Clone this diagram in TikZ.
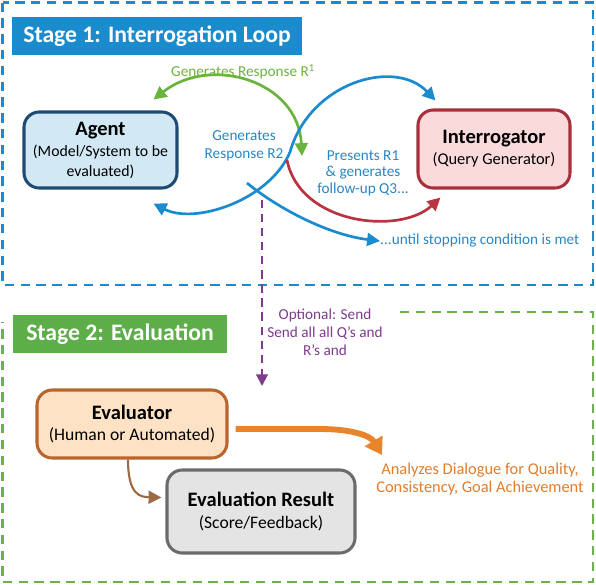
\documentclass[tikz,border=0pt]{standalone}
\usepackage{fontspec}
\setmainfont{Carlito}
\usetikzlibrary{arrows.meta,calc}
\definecolor{loopblue}{HTML}{1A8CCD}
\definecolor{evalgreen}{HTML}{5DAE48}
\definecolor{dashgreen}{HTML}{6CB24C}
\definecolor{agentfill}{HTML}{D2E8F5}
\definecolor{agentline}{HTML}{1F4B72}
\definecolor{intfill}{HTML}{FADADA}
\definecolor{intline}{HTML}{A8303C}
\definecolor{respgreen}{HTML}{6BB33F}
\definecolor{qred}{HTML}{B93340}
\definecolor{optpurple}{HTML}{7D3C8C}
\definecolor{evfill}{HTML}{FDE2C6}
\definecolor{evline}{HTML}{B9652B}
\definecolor{resfill}{HTML}{E4E4E4}
\definecolor{resline}{HTML}{6B6B6B}
\definecolor{anorange}{HTML}{E8842C}
\definecolor{brownarr}{HTML}{9C6A45}
\definecolor{txtblue}{HTML}{2A86C3}
\definecolor{txtorange}{HTML}{E07D2D}
\newcommand{\boxtext}[2]{{\fontsize{17.5}{19}\selectfont\bfseries #1}\\[1pt]#2}
\tikzset{
  stage/.style  = {line width=2.4pt, dash pattern=on 8pt off 5.5pt},
  hdr/.style    = {fill=#1, text=white, inner sep=0pt, minimum height=1.14cm,
                   font=\fontsize{20.2}{22}\selectfont\bfseries},
  actor/.style  = {rounded corners=13pt, line width=2.6pt, align=center,
                   inner sep=2pt, font=\fontsize{13.5}{17}\selectfont},
  lbl/.style    = {align=center, inner sep=0pt, font=\fontsize{13}{15.4}\selectfont},
  flow/.style   = {line width=2.3pt, -{Triangle[length=11pt, width=11pt]}},
  dflow/.style  = {line width=2.3pt, {Triangle[length=11pt, width=11pt]}-{Triangle[length=11pt, width=11pt]}},
}
\begin{document}
\begin{tikzpicture}[x=0.03cm, y=-0.03cm]
  \useasboundingbox (0,0) rectangle (596,584);
  \draw[stage, loopblue] (2.5,2.5) rectangle (593,285);
  \draw[stage, dashgreen] (400,312) -- (593,312) -- (593,582) -- (2.5,582) -- (2.5,322);
  \node[hdr=loopblue, minimum width=8.7cm] (hdr1) at (157,36) {Stage 1: Interrogation Loop};
  \node[hdr=evalgreen, minimum width=6.42cm] (hdr2) at (120,334) {Stage 2: Evaluation};
  \node[actor, draw=agentline, fill=agentfill, minimum width=4.59cm, minimum height=2.28cm]
    (agent) at (100.5,150) {\boxtext{Agent}{(Model/System to be\\evaluated)}};
  \node[actor, draw=intline, fill=intfill, minimum width=4.56cm, minimum height=2.34cm,
    font=\fontsize{14}{17}\selectfont] (int) at (494,149) {\boxtext{Interrogator}{(Query Generator)}};
  \node[actor, draw=evline, fill=evfill, minimum width=5.7cm, minimum height=2.04cm,
    font=\fontsize{15}{17}\selectfont] (eval) at (132,424) {\boxtext{Evaluator}{(Human or Automated)}};
  \node[actor, draw=resline, fill=resfill, minimum width=5.64cm, minimum height=2.49cm,
    font=\fontsize{15}{17}\selectfont] (res) at (261,511.5) {\boxtext{Evaluation Result}{(Score/Feedback)}};
  \node[lbl, text=respgreen] (lr1) at (243,72) {Generates Response R\textsuperscript{1}};
  \node[lbl, text=txtblue] (lr2) at (244,146) {Generates\\Response R2};
  \node[lbl, text=txtblue, font=\fontsize{13}{14.2}\selectfont] (lq3) at (363,173)
    {Presents R1\\\& generates\\follow-up Q3...};
  \node[lbl, text=txtblue, anchor=west] (lstop) at (380,241) {...until stopping condition is met};
  \node[lbl, text=optpurple] (lopt) at (325,332) {Optional: Send\\Send all all Q’s and\\R’s and};
  \node[lbl, text=txtorange, font=\fontsize{14}{15.4}\selectfont] (lan) at (480,479)
    {Analyzes Dialogue for Quality,\\Consistency, Goal Achievement};
  \coordinate (hub) at (290,152);
  \coordinate (agN) at ($(agent.north east)+(-25,-11)$);
  \coordinate (agS) at ($(agent.south east)+(-25,14)$);
  \coordinate (intN) at ($(int.north west)+(19,-8)$);
  \coordinate (intS) at ($(int.south west)+(24,8)$);
  \draw[dflow, respgreen] (302,156) .. controls (298,80) and (210,55) .. (agN);
  \draw[dflow, loopblue] (agS) .. controls (195,225) and (270,200) .. (hub)
    .. controls (310,82) and (395,58) .. (intN);
  \draw[flow, qred] (287,160) .. controls (300,225) and (400,235) .. (intS);
  \draw[flow, loopblue] (247,183) .. controls (280,210) and (330,235) .. (lstop.west);
  \draw[optpurple, line width=1.8pt, dash pattern=on 7pt off 5pt, -{Triangle[length=10pt, width=10pt]}]
    (262,200) -- (262,386);
  \draw[flow, brownarr, line width=1.8pt] ($(eval.south)+(-4,0)$) .. controls (128,495) and (140,497)
    .. ($(res.west)+(-4,-14)$);
  \draw[anorange, line width=5pt, -{Triangle[length=14pt, width=17pt]}] ($(eval.east)+(7,5)$) -- (320,429)
    .. controls (350,429) and (370,435) .. (382,455);
\end{tikzpicture}
\end{document}
